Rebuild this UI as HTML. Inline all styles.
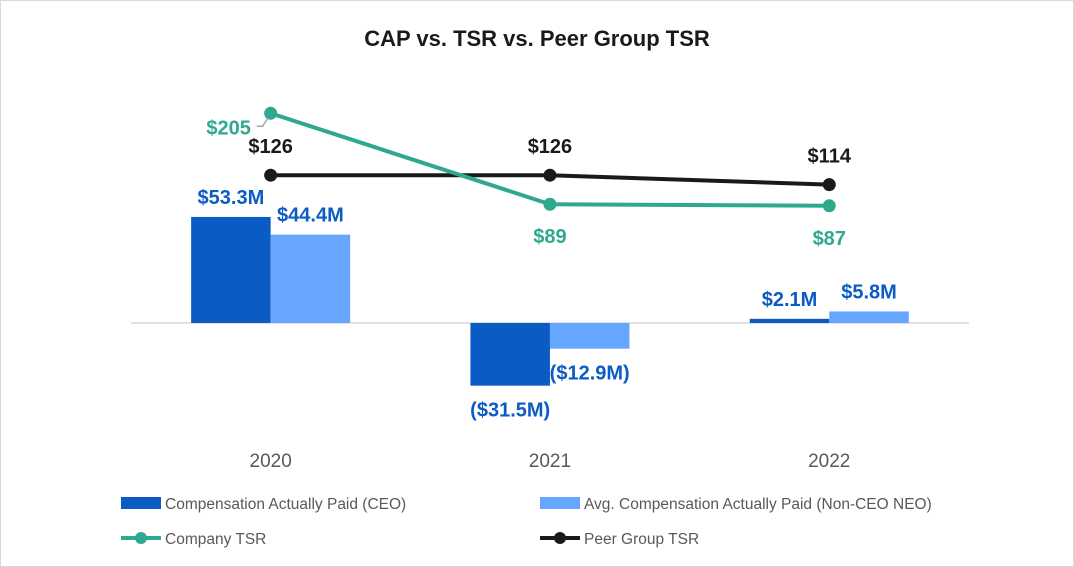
<!DOCTYPE html>
<html><head><meta charset="utf-8"><style>
body{margin:0;background:#fff;}
svg{display:block;font-family:"Liberation Sans",sans-serif;}
</style></head><body>
<svg id="c" width="1074" height="567">
<rect x="0.5" y="0.5" width="1073" height="566" fill="#fff" stroke="#d9d9d9"/>
<text x="537" y="46" text-anchor="middle" font-size="22" font-weight="bold" fill="#1a1a1a">CAP vs. TSR vs. Peer Group TSR</text>
<g id="plot"></g>
<g>
<rect x="121" y="497" width="40" height="12" fill="#0a5bc4"/>
<text x="165" y="509" font-size="15.5" fill="#595959">Compensation Actually Paid (CEO)</text>
<rect x="540" y="497" width="40" height="12" fill="#66a6ff"/>
<text x="584" y="509" font-size="15.5" fill="#595959">Avg. Compensation Actually Paid (Non-CEO NEO)</text>
<line x1="121" y1="538" x2="161" y2="538" stroke="#2ea98f" stroke-width="4"/>
<circle cx="141" cy="538" r="6" fill="#2ea98f"/>
<text x="165" y="544" font-size="15.5" fill="#595959">Company TSR</text>
<line x1="540" y1="538" x2="580" y2="538" stroke="#1a1a1a" stroke-width="4"/>
<circle cx="560" cy="538" r="6" fill="#1a1a1a"/>
<text x="584" y="544" font-size="15.5" fill="#595959">Peer Group TSR</text>
</g>
</svg>
<script>
const categories=["2020","2021","2022"];
const ceoCap=[53.3,-31.5,2.1];
const neoCap=[44.4,-12.9,5.8];
const ceoLabels=["$53.3M","($31.5M)","$2.1M"];
const neoLabels=["$44.4M","($12.9M)","$5.8M"];
const companyTsr=[205,89,87];
const peerTsr=[126,126,114];
const NS="http://www.w3.org/2000/svg";
const g=document.getElementById('plot');
function el(t,a,txt){const e=document.createElementNS(NS,t);for(const k in a)e.setAttribute(k,a[k]);if(txt!=null)e.textContent=txt;g.appendChild(e);return e;}
const x0=131,band=279.3;
function xc(i){return x0+band*(i+0.5);}
function yBar(v){return 323-v*1.99;}
function yTsr(v){return 274-v*0.784;}
let e=el('line',{x1:131,y1:323,x2:969,y2:323,stroke:'#d9d9d9','stroke-width':1.5});


categories.forEach((c,i)=>{
  const cx=xc(i),w=79.5;
  const y1=yBar(ceoCap[i]),y2=yBar(neoCap[i]),z=yBar(0);
  let b=el('rect',{x:cx-w,y:Math.min(y1,z),width:w,height:Math.abs(z-y1),fill:'#0a5bc4'});
  
  
  b=el('rect',{x:cx,y:Math.min(y2,z),width:w,height:Math.abs(z-y2),fill:'#66a6ff'});
  
  
  let t=el('text',{x:cx-w/2,y:ceoCap[i]>=0?y1-13:y1+31,'text-anchor':'middle','font-size':20,'font-weight':'bold',fill:'#0a5bc4'},ceoLabels[i]);
  
  
  t=el('text',{x:cx+w/2,y:neoCap[i]>=0?y2-13:y2+31,'text-anchor':'middle','font-size':20,'font-weight':'bold',fill:'#0a5bc4'},neoLabels[i]);
  
  
  t=el('text',{x:cx,y:467,'text-anchor':'middle','font-size':19,fill:'#595959'},c);
  
  
});
function series(vals,color,name,below){
  const pts=vals.map((v,i)=>xc(i)+','+yTsr(v)).join(' ');
  let p=el('polyline',{points:pts,fill:'none',stroke:color,'stroke-width':4});
  
  
  vals.forEach((v,i)=>{
    let c=el('circle',{cx:xc(i),cy:yTsr(v),r:6.5,fill:color});
    
    
    let lx=xc(i),ly=below[i]?yTsr(v)+39:yTsr(v)-22;
    if(name==='company'&&i===0){lx=xc(i)-42;ly=yTsr(v)+21;
      let l=el('polyline',{points:(xc(i)-14)+','+(yTsr(v)+13)+' '+(xc(i)-8)+','+(yTsr(v)+13)+' '+(xc(i)-3)+','+(yTsr(v)+5),fill:'none',stroke:'#a6a6a6','stroke-width':1.5});
      
      }
    let t=el('text',{x:lx,y:ly,'text-anchor':'middle','font-size':20,'font-weight':'bold',fill:color},'$'+v);
    
    
  });
}
series(peerTsr,'#1a1a1a','peer',[false,false,false]);
series(companyTsr,'#2ea98f','company',[false,true,true]);
</script>
</body></html>
